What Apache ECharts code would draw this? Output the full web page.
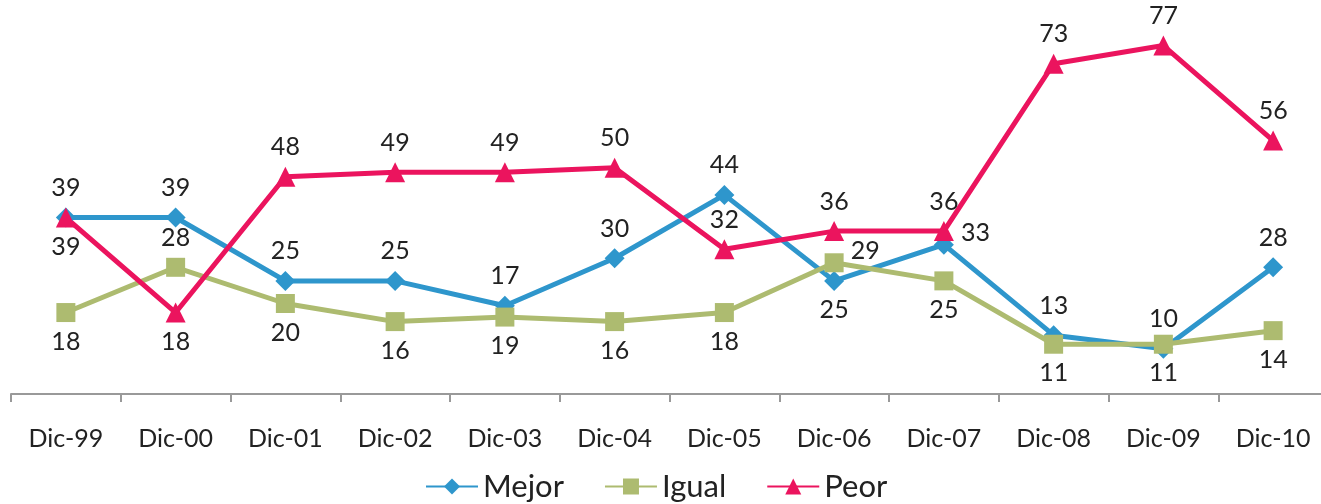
<!DOCTYPE html>
<html>
<head>
<meta charset="utf-8">
<script src="https://cdn.jsdelivr.net/npm/echarts@6/dist/echarts.min.js"></script>
<style>
    html, body { margin: 0; padding: 0; background: #fff; }
    #chart { width: 1321px; height: 504px; }
</style>
</head>
<body>
<div id="chart"></div>
<script>
// datos del gráfico
var categorias = ['Dic-99', 'Dic-00', 'Dic-01', 'Dic-02', 'Dic-03', 'Dic-04', 'Dic-05', 'Dic-06', 'Dic-07', 'Dic-08', 'Dic-09', 'Dic-10'];
var mejor = [39, 39, 25, 25, 19.5, 30, 44, 25, 33, 13, 10, 28];
var igual = [18, 28, 20, 16, 17, 16, 18, 29, 25, 11, 11, 14];
var peor  = [39, 18, 48, 49, 49, 50, 32, 36, 36, 73, 77, 56];
// etiquetas tal como aparecen impresas
var mejorEtiq = [39, 39, 25, 25, 17, 30, 44, 25, 33, 13, 10, 28];
var igualEtiq = [18, 28, 20, 16, 19, 16, 18, 29, 25, 11, 11, 14];
var peorEtiq  = [39, 18, 48, 49, 49, 50, 32, 36, 36, 73, 77, 56];

var fuente = 'Lato';

// posicion de cada etiqueta
var posMejor = ['top', 'top', 'top', 'top', 'top', 'top', 'top', 'bottom', 'right', 'top', 'top', 'top'];
var posIgual = ['bottom', 'top', 'bottom', 'bottom', 'bottom', 'bottom', 'bottom', 'right', 'bottom', 'bottom', 'bottom', 'bottom'];
var posPeor  = ['bottom', 'bottom', 'top', 'top', 'top', 'top', 'top', 'top', 'top', 'top', 'top', 'top'];

function puntos(valores, etiquetas, posiciones) {
    return valores.map(function (v, i) {
        var lbl = { position: posiciones[i], formatter: String(etiquetas[i]) };
        if (posiciones[i] === 'right') {
            lbl.offset = [0, -12];
        }
        return { value: v, label: lbl };
    });
}

function serie(nombre, color, simbolo, size, datos) {
    return {
        name: nombre,
        type: 'line',
        data: datos,
        symbol: simbolo,
        symbolSize: size,
        showAllSymbol: true,
        itemStyle: { color: color },
        lineStyle: { color: color, width: 5 },
        label: {
            show: true,
            color: '#222',
            fontFamily: fuente,
            fontSize: 25,
            distance: 7
        },
        emphasis: { disabled: true },
        animation: false
    };
}

var chart = echarts.init(document.getElementById('chart'));
chart.setOption({
    backgroundColor: '#fff',
    textStyle: { fontFamily: fuente },
    grid: { left: 11, top: 32, width: 1317, height: 362, containLabel: false, outerBoundsMode: 'none' },
    legend: {
        bottom: -3,
        left: 420,
        itemWidth: 52,
        itemHeight: 20,
        itemGap: 40,
        textStyle: { fontSize: 31, color: '#222', fontFamily: fuente }
    },
    xAxis: {
        type: 'category',
        data: categorias,
        boundaryGap: true,
        axisLine: { lineStyle: { color: '#999', width: 2 } },
        axisTick: { show: true, length: 8, lineStyle: { color: '#999', width: 2 } },
        axisLabel: { color: '#222', fontSize: 25, fontFamily: fuente, margin: 32 }
    },
    yAxis: {
        type: 'value',
        min: 0,
        max: 80,
        show: false,
        splitLine: { show: false }
    },
    series: [
        serie('Mejor', '#2E96CC', 'diamond', 20, puntos(mejor, mejorEtiq, posMejor)),
        serie('Igual', '#ADBB70', 'rect', 19, puntos(igual, igualEtiq, posIgual)),
        serie('Peor', '#EB145E', 'triangle', 20, puntos(peor, peorEtiq, posPeor))
    ]
});
</script>
</body>
</html>
